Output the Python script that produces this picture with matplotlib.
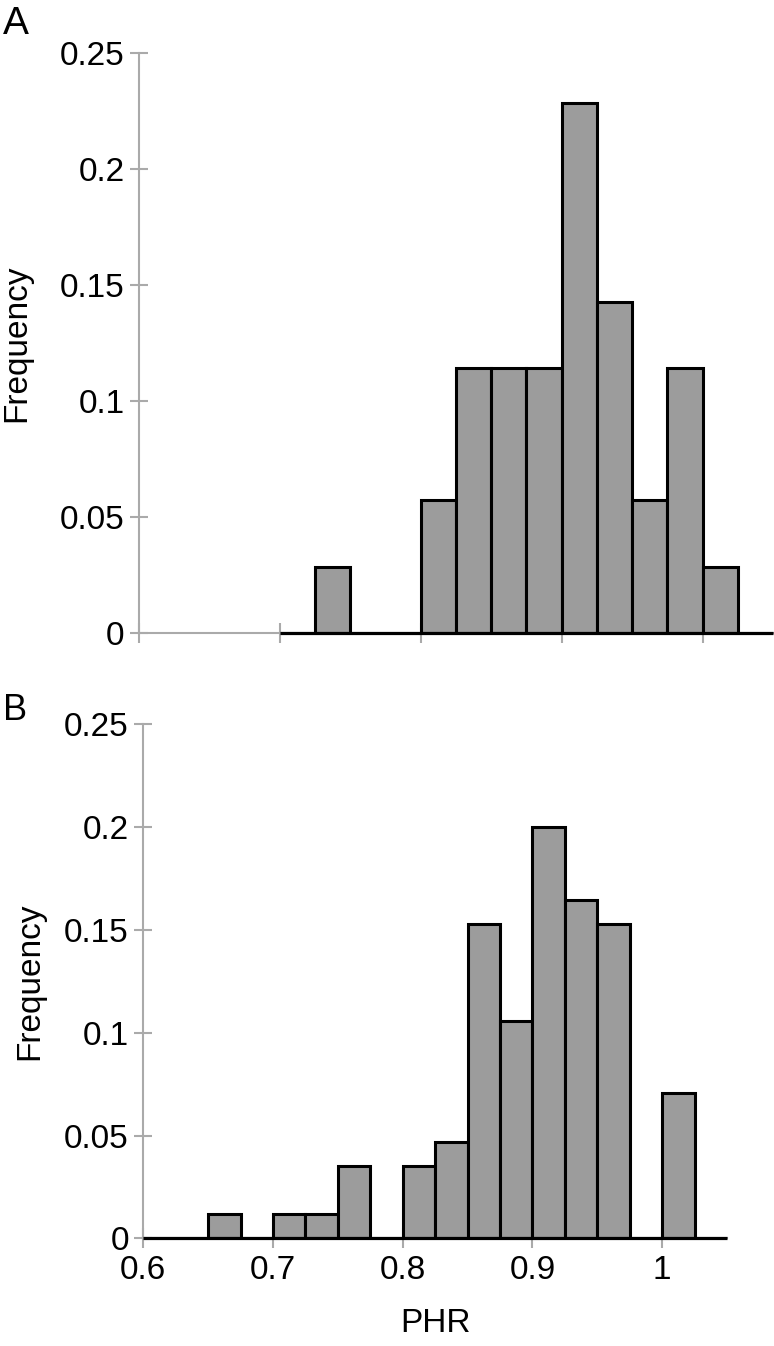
import numpy as np
import matplotlib
matplotlib.use("Agg")
import matplotlib.pyplot as plt

plt.rcParams['font.family'] = ['Liberation Sans', 'DejaVu Sans']

# Histogram data: left bin edges (bin width 0.025) and counts
bin_width = 0.025
a_left = [0.725, 0.8, 0.825, 0.85, 0.875, 0.9, 0.925, 0.95, 0.975, 1.0]
a_counts = [1, 2, 4, 4, 4, 8, 5, 2, 4, 1]
b_left = [0.65, 0.7, 0.725, 0.75, 0.8, 0.825, 0.85, 0.875, 0.9, 0.925, 0.95, 1.0]
b_counts = [1, 1, 1, 3, 3, 4, 13, 9, 17, 14, 13, 6]

x_ticks = [0.6, 0.7, 0.8, 0.9, 1.0]
x_ticklabels = ['0.6', '0.7', '0.8', '0.9', '1']
y_ticks = [0, 0.05, 0.1, 0.15, 0.2, 0.25]
y_ticklabels = ['0', '0.05', '0.1', '0.15', '0.2', '0.25']

axis_grey = '#aaaaaa'
bar_grey = '#9c9c9c'

fig = plt.figure(figsize=(7.74, 13.46), dpi=100)
ax_a = fig.add_axes([0.1796, 0.5297, 0.8191, 0.4309])
ax_b = fig.add_axes([0.1852, 0.0800, 0.7541, 0.3819])


def style_axis(ax, show_xlabels):
    ax.set_xlim(0.6, 1.05)
    ax.set_ylim(0, 0.25)
    for side in ('top', 'right'):
        ax.spines[side].set_visible(False)
    for side in ('left', 'bottom'):
        ax.spines[side].set_color(axis_grey)
        ax.spines[side].set_linewidth(1.5)
    ax.set_yticks(y_ticks)
    ax.set_yticklabels(y_ticklabels)
    ax.set_xticks(x_ticks)
    if show_xlabels:
        ax.set_xticklabels(x_ticklabels)
    else:
        ax.set_xticklabels([])
    ax.tick_params(axis='y', direction='inout', length=13, width=1.5,
                   color=axis_grey, labelsize=24, pad=4)
    ax.tick_params(axis='x', direction='inout', length=14, width=1.5,
                   color=axis_grey, labelsize=24, pad=5)
    ax.set_ylabel('Frequency', fontsize=24)


def draw_hist(ax, lefts, counts, line_start):
    freq = np.array(counts) / np.sum(counts)
    ax.bar(lefts, freq, width=bin_width, align='edge', color=bar_grey,
           edgecolor='black', linewidth=2.2, zorder=3)
    ax.plot([line_start, 1.05], [0, 0], color='black', linewidth=2.3,
            clip_on=False, zorder=4, solid_capstyle='butt')


style_axis(ax_a, False)
draw_hist(ax_a, a_left, a_counts, 0.7)
ax_a.yaxis.set_label_coords(-0.168, 0.5)

style_axis(ax_b, True)
draw_hist(ax_b, b_left, b_counts, 0.6)
ax_b.set_xlabel('PHR', fontsize=24, labelpad=16)
ax_b.yaxis.set_label_coords(-0.168, 0.5)

fig.text(0.004, 0.982, 'A', fontsize=28, va='center', ha='left')
fig.text(0.004, 0.4725, 'B', fontsize=26, va='center', ha='left')

fig.savefig('out.png', dpi=100)
